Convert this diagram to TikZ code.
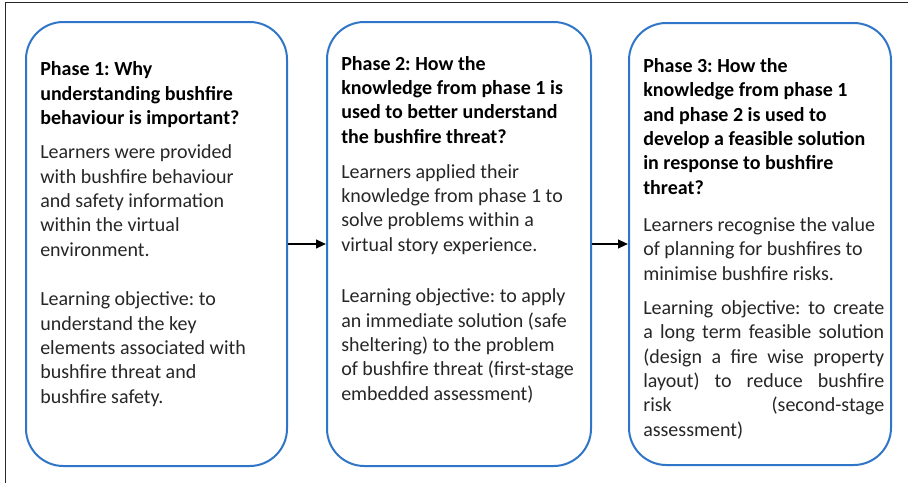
\documentclass[tikz,border=0pt]{standalone}
\usepackage{fontspec}
\setmainfont{Carlito}
\usetikzlibrary{arrows.meta}
\frenchspacing
\newcommand{\fillline}[1]{\hbox to 180.75pt{#1}}
\begin{document}
\begin{tikzpicture}[x=0.75pt,y=0.75pt,yscale=-1,xscale=1,
	phasebox/.style={draw={rgb, 255:red, 47; green, 117; blue, 200}, line width=1.5pt, rounded corners=28pt, inner sep=0pt},
	headtext/.style={anchor=base west, inner sep=0pt, align=left, font=\fontsize{15}{18.2}\selectfont\bfseries, text=black},
	bodytext/.style={anchor=base west, inner sep=0pt, align=left, font=\fontsize{15}{18.2}\selectfont, text={rgb, 255:red, 38; green, 38; blue, 38}},
	flow/.style={-{Triangle[length=7.5pt,width=6.5pt]}, line width=1.5pt, black}]
	\useasboundingbox (0,0) rectangle (908,483);
	
	%Frame
	\draw [line width=0.75pt, color={rgb, 255:red, 40; green, 40; blue, 40}] (908,2.5) -- (5,2.5) -- (5,483) ;
	
	%Phase boxes
	\node [phasebox, minimum width=195.75pt, minimum height=333pt] (box1) at (156.5,244) {};
	\node [phasebox, minimum width=198pt, minimum height=333pt] (box2) at (459,244) {};
	\node [phasebox, minimum width=196.5pt, minimum height=331.5pt] (box3) at (760,244) {};
	
	%Arrows
	\draw [flow] (box1.east) -- (box2.west) ;
	\draw [flow] (box2.east) -- (box3.west) ;
	
	% Phase 1 (nodes sit on the baseline of their last line)
	\node [headtext] (head1) at (40,124.5) {Phase 1: Why\\understanding bushfire\\behaviour is important?};
	\node [bodytext] (body1) at (40,256) {Learners were provided\\with bushfire behaviour\\and safety information\\within the virtual\\environment.};
	\node [bodytext] (obj1) at (40,403) {Learning objective: to\\understand the key\\elements associated with\\bushfire threat and\\bushfire safety.};
	
	% Phase 2
	\node [headtext] (head2) at (341,143) {Phase 2: How the\\knowledge from phase 1 is\\used to better understand\\the bushfire threat?};
	\node [bodytext] (body2) at (341,251) {Learners applied their\\knowledge from phase 1 to\\solve problems within a\\virtual story experience.};
	\node [bodytext] (obj2) at (341,400) {Learning objective: to apply\\an immediate solution (safe\\sheltering) to the problem\\of bushfire threat (first-stage\\embedded assessment)};
	
	% Phase 3
	\node [headtext] (head3) at (643,194) {Phase 3: How the\\knowledge from phase 1\\and phase 2 is used to\\develop a feasible solution\\in response to bushfire\\threat?};
	\node [bodytext] (body3) at (643,280) {Learners recognise the value\\of planning for bushfires to\\minimise bushfire risks.};
	\node [bodytext] (obj3) at (643,436) {\fillline{Learning objective: to create}\\\fillline{a long term feasible solution}\\\fillline{(design a fire wise property}\\\fillline{layout) to reduce bushfire}\\\fillline{risk (second-stage}\\assessment)};
	
\end{tikzpicture}
\end{document}
